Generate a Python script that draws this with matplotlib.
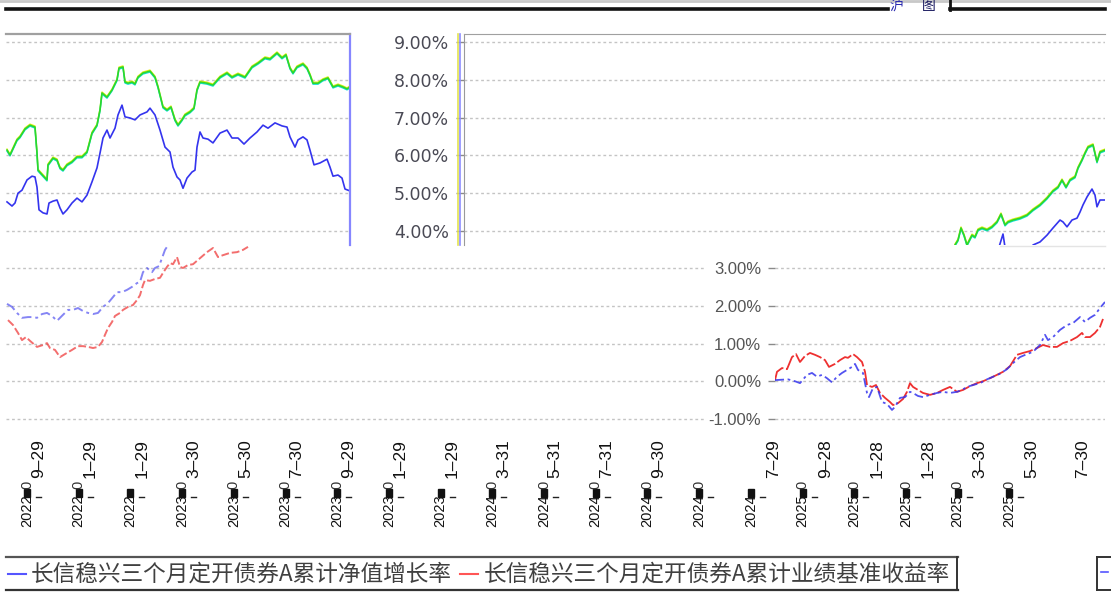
import matplotlib
matplotlib.use("Agg")
import matplotlib.pyplot as plt
import matplotlib.transforms as mtransforms
from matplotlib.patches import Rectangle
from matplotlib.lines import Line2D
import numpy as np

plt.rcParams["font.family"] = ["Liberation Sans", "DejaVu Sans"]

# ── data (x = day number on the shared date axis, y = cumulative return %) ──
a_green_day = [7, 10, 17, 20, 25, 30, 35, 37, 38, 47, 48, 53, 57, 60, 63, 67, 72, 77, 82, 87,
               92, 97, 100, 102, 107, 112, 117, 119, 123, 125, 128, 132, 135, 138, 143, 150, 155, 158, 163, 167,
               171, 175, 178, 182, 185, 190, 194, 197, 200, 207, 213, 220, 227, 232, 238, 245, 252, 258, 265, 270,
               277, 282, 286, 290, 293, 297, 303, 307, 310, 313, 318, 323, 328, 333, 338, 343, 347, 350]
a_green_val = [6.14, 6.01, 6.41, 6.49, 6.70, 6.80, 6.75, 6.06, 5.61, 5.35, 5.75, 5.93, 5.88, 5.67, 5.61, 5.75, 5.83, 5.96, 5.96, 6.09,
               6.59, 6.80, 7.20, 7.65, 7.54, 7.73, 8.00, 8.31, 8.34, 7.94, 7.91, 7.94, 7.89, 8.07, 8.18, 8.23, 8.07, 7.81, 7.28, 7.20,
               7.28, 6.94, 6.80, 6.94, 7.07, 7.15, 7.25, 7.73, 7.94, 7.91, 7.86, 8.07, 8.18, 8.07, 8.15, 8.07, 8.34, 8.44, 8.58, 8.55,
               8.71, 8.58, 8.66, 8.31, 8.18, 8.34, 8.42, 8.31, 8.13, 7.91, 7.91, 8.00, 8.05, 7.81, 7.86, 7.81, 7.76, 7.81]

a_blue_day = [7, 12, 15, 18, 22, 27, 32, 35, 37, 39, 43, 47, 49, 53, 57, 60, 63, 67, 72, 77,
              82, 87, 92, 97, 100, 103, 107, 110, 115, 118, 122, 125, 130, 135, 140, 147, 150, 155, 160, 165,
              170, 173, 177, 180, 183, 187, 192, 195, 197, 200, 203, 208, 213, 220, 227, 232, 238, 244, 250, 257,
              263, 268, 275, 282, 287, 290, 295, 298, 303, 307, 310, 314, 320, 327, 330, 333, 338, 342, 345, 350]
a_blue_val = [4.77, 4.66, 4.74, 5.00, 5.08, 5.35, 5.45, 5.43, 5.16, 4.56, 4.48, 4.45, 4.74, 4.79, 4.82, 4.61, 4.45, 4.56, 4.74, 4.87,
              4.77, 4.95, 5.30, 5.67, 6.06, 6.46, 6.67, 6.46, 6.72, 7.07, 7.33, 7.02, 6.99, 6.94, 7.07, 7.15, 7.25, 7.07, 6.67, 6.22,
              6.09, 5.69, 5.43, 5.35, 5.13, 5.40, 5.56, 5.61, 6.22, 6.62, 6.46, 6.43, 6.33, 6.59, 6.67, 6.46, 6.46, 6.30, 6.46, 6.62,
              6.80, 6.72, 6.86, 6.78, 6.75, 6.49, 6.22, 6.41, 6.49, 6.41, 6.14, 5.75, 5.80, 5.90, 5.69, 5.45, 5.48, 5.40, 5.11, 5.06]

b_green_day = [953, 955, 958, 961, 964, 967, 972, 975, 978, 982, 987, 992, 997, 1001, 1005, 1008, 1013, 1020,
               1027, 1033, 1040, 1047, 1053, 1058, 1062, 1066, 1070, 1075, 1078, 1082, 1085, 1088, 1093, 1097, 1100, 1105]
b_green_val = [3.40, 3.63, 3.76, 4.08, 3.89, 3.63, 3.89, 3.84, 4.03, 4.08, 4.03, 4.11, 4.24, 4.45, 4.16, 4.24, 4.29, 4.34,
               4.42, 4.56, 4.69, 4.87, 5.06, 5.16, 5.35, 5.16, 5.35, 5.43, 5.67, 5.88, 6.06, 6.22, 6.28, 5.83, 6.09, 6.14]

b_blue_day = [997, 1003, 1006, np.nan, 1030, 1033, 1040, 1047, 1053, 1060, 1063, 1067, 1072, 1077, 1080,
              1083, 1087, 1092, 1095, 1097, 1100, 1105]
b_blue_val = [3.40, 3.92, 3.40, np.nan, 3.40, 3.63, 3.71, 3.89, 4.08, 4.29, 4.24, 4.11, 4.29, 4.34, 4.50,
              4.69, 4.90, 5.11, 4.95, 4.64, 4.82, 4.82]

c_blue_day = [7, 12, 17, 22, 28, 33, 37, 42, 47, 52, 57, 63, 68, 73, 78, 83, 88, 93, 98, 103,
              108, 113, 117, 122, 127, 132, 137, 140, 143, 147, 152, 155, 159, 162, 165, 167, 169]
c_blue_val = [2.05, 1.97, 1.81, 1.68, 1.70, 1.70, 1.68, 1.78, 1.81, 1.73, 1.60, 1.76, 1.89, 1.89, 1.94, 1.86, 1.81, 1.78, 1.81, 1.97,
              2.07, 2.23, 2.36, 2.36, 2.42, 2.50, 2.60, 2.63, 2.89, 3.00, 2.89, 3.00, 3.05, 3.26, 3.48, 3.56, 3.75]

c_red_day = [8, 13, 18, 22, 26, 30, 37, 43, 47, 50, 55, 60, 65, 72, 78, 83, 88, 93, 98, 102,
             105, 108, 112, 115, 120, 123, 128, 133, 137, 140, 143, 145, 150, 155, 160, 163, 167, 170, 173, 177,
             180, 183, 188, 193, 200, 207, 213, 218, 223, 230, 237, 243, 248]
c_red_val = [1.62, 1.49, 1.28, 1.09, 1.17, 1.07, 0.91, 0.96, 1.01, 0.88, 0.83, 0.64, 0.72, 0.83, 0.93, 0.93, 0.91, 0.88, 0.91, 1.04,
             1.23, 1.41, 1.57, 1.73, 1.81, 1.89, 1.97, 2.02, 2.15, 2.28, 2.55, 2.68, 2.66, 2.71, 2.74, 2.87, 3.03, 3.13, 3.10, 3.29,
             3.03, 3.00, 3.08, 3.10, 3.26, 3.42, 3.53, 3.29, 3.34, 3.40, 3.42, 3.48, 3.56]

d_red_day = [775, 777, 782, 787, 792, 796, 800, 805, 810, 815, 820, 825, 829, 835, 840, 845, 848, 853, 857, 862,
             865, 867, 872, 876, 880, 885, 890, 893, 898, 903, 907, 910, 913, 918, 923, 930, 937, 943, 950, 957,
             963, 970, 977, 983, 990, 997, 1003, 1010, 1017, 1023, 1030, 1037, 1043, 1050, 1057, 1063, 1070, 1077, 1082, 1085,
             1090, 1095, 1100, 1103]
d_red_val = [0.03, 0.25, 0.35, 0.32, 0.64, 0.72, 0.51, 0.67, 0.75, 0.70, 0.64, 0.56, 0.38, 0.46, 0.56, 0.64, 0.62, 0.72, 0.64, 0.51,
             0.25, -0.10, -0.15, -0.10, -0.31, -0.44, -0.55, -0.63, -0.58, -0.47, -0.28, -0.05, -0.15, -0.23, -0.31, -0.36, -0.31, -0.23, -0.15, -0.28,
             -0.23, -0.13, -0.05, 0.00, 0.08, 0.17, 0.25, 0.40, 0.70, 0.75, 0.80, 0.88, 0.96, 0.91, 0.91, 1.01, 1.07, 1.17, 1.28, 1.17,
             1.17, 1.28, 1.44, 1.65]

d_blue_day = [775, 788, 795, 800, 807, 812, 817, 822, 827, 832, 837, 842, 847, 852, 855, 858, 863, 867, 869, 873,
              877, 882, 887, 892, 895, 900, 905, 910, 913, 918, 923, 930, 937, 943, 950, 957, 962, 967, 973, 980,
              987, 993, 1000, 1007, 1013, 1020, 1027, 1033, 1040, 1045, 1048, 1053, 1060, 1067, 1073, 1080, 1085, 1090, 1095, 1100,
              1105]
d_blue_val = [0.03, 0.05, 0.00, -0.05, 0.17, 0.22, 0.12, 0.17, 0.08, -0.03, 0.12, 0.22, 0.30, 0.38, 0.46, 0.30, 0.22, -0.31, -0.42, -0.18,
              -0.15, -0.55, -0.60, -0.76, -0.68, -0.44, -0.42, -0.28, -0.31, -0.39, -0.42, -0.36, -0.31, -0.28, -0.31, -0.28, -0.23, -0.15, -0.10, -0.05,
              0.05, 0.12, 0.20, 0.32, 0.48, 0.64, 0.72, 0.78, 0.96, 1.23, 1.09, 1.17, 1.36, 1.49, 1.54, 1.70, 1.57, 1.68, 1.76, 1.94,
              2.10]

top_yticks = [9, 8, 7, 6, 5, 4]
bottom_yticks = [3, 2, 1, 0, -1]

date_low = ["2022", "2022", "2022", "2023", "2023", "2023", "2023", "2023", "2023", "2024",
            "2024", "2024", "2024", "2024", "2024", "2025", "2025", "2025", "2025", "2025"]
date_mid = ["0", "0", "", "0", "0", "0", "0", "0", "", "0",
            "0", "0", "0", "0", "", "0", "0", "0", "0", "0"]
date_top_left = ["9\u201329", "1\u201329", "1\u201329", "3\u201330", "5\u201330", "7\u201330", "9\u201329",
                 "1\u201329", "1\u201329", "3\u201331", "5\u201331", "7\u201331", "9\u201330"]
date_top_right = ["7\u201329", "9\u201328", "1\u201328", "1\u201328", "3\u201330", "5\u201330", "7\u201330"]

legend_labels = ["长信稳兴三个月定开债券A累计净值增长率", "长信稳兴三个月定开债券A累计业绩基准收益率"]

# ── colours ──────────────────────────────────────────────────────────────────
C_BLUE = "#3434ee"
C_RED = "#ee3030"
C_GREEN = "#2cd82c"
C_GRID = "#c4c4c4"
C_TICKTXT = "#4a4a55"
CJK = ["Noto Sans CJK SC", "DejaVu Sans"]

W, H = 1111, 593
fig = plt.figure(figsize=(W / 100, H / 100), dpi=100)
fig.patch.set_facecolor("white")


def box(x0, y0, x1, y1):
    return [x0 / W, 1 - y1 / H, (x1 - x0) / W, (y1 - y0) / H]


def fx(x):
    return x / W


def fy(y):
    return 1 - y / H


def hline(x0, x1, y, **kw):
    fig.add_artist(Line2D([fx(x0), fx(x1)], [fy(y), fy(y)], transform=fig.transFigure, **kw))


def vline(x, y0, y1, **kw):
    fig.add_artist(Line2D([fx(x), fx(x)], [fy(y0), fy(y1)], transform=fig.transFigure, **kw))


def ylim_for(y0, y1, v_top, p_top, v_bot, p_bot):
    s = (p_bot - p_top) / (v_top - v_bot)
    return v_top - (y1 - p_top) / s, v_top + (p_top - y0) / s


def panel(x0, y0, x1, y1, ylim, yticks):
    ax = fig.add_axes(box(x0, y0, x1, y1))
    ax.set_xlim(x0, x1)
    ax.set_ylim(*ylim)
    ax.set_facecolor("none")
    for s in ax.spines.values():
        s.set_visible(False)
    ax.set_xticks([])
    ax.set_yticks(yticks)
    ax.tick_params(axis="y", length=0, labelleft=False)
    ax.grid(axis="y", color=C_GRID, linestyle=(0, (2, 2)), linewidth=1)
    ax.set_axisbelow(True)
    return ax


def green_line(ax, x, y):
    for dy, c in ((1.0, "#e6ee10"), (-1.0, "#10dede")):
        tr = mtransforms.offset_copy(ax.transData, fig=fig, x=0, y=dy, units="dots")
        ax.plot(x, y, color=c, lw=1.0, transform=tr)
    ax.plot(x, y, color=C_GREEN, lw=1.2)


fmt = lambda v: f"{v:.2f}%"

top_ylim = ylim_for(34, 245, 9, 42, 4, 231)
bot_ylim = ylim_for(245, 430, 3, 268, -1, 419)

# ── top-left fragment ───────────────────────────────────────────────────────
ax_a = panel(6, 34, 350, 245, top_ylim, top_yticks)
ax_a.spines["top"].set_visible(True)
ax_a.spines["top"].set_color("#a0a0a0")
ax_a.spines["top"].set_linewidth(1.6)
ax_a.spines["right"].set_visible(True)
ax_a.spines["right"].set_color("#8686ff")
ax_a.spines["right"].set_linewidth(1.6)
green_line(ax_a, a_green_day, a_green_val)
ax_a.plot(a_blue_day, a_blue_val, color=C_BLUE, lw=1.2)

# ── top-right fragment ──────────────────────────────────────────────────────
ax_b = panel(464, 34, 1105, 245, top_ylim, top_yticks)
ax_b.set_yticklabels([fmt(v) for v in top_yticks], family="DejaVu Sans")
ax_b.tick_params(axis="y", length=6, width=1, color="#8a8a8a", labelleft=True,
                 labelsize=12.5, labelcolor=C_TICKTXT, pad=5)
ax_b.spines["top"].set_visible(True)
ax_b.spines["top"].set_color("#a0a0a0")
ax_b.spines["left"].set_visible(True)
ax_b.spines["left"].set_color("#9a9a9a")
green_line(ax_b, b_green_day, b_green_val)
ax_b.plot(b_blue_day, b_blue_val, color=C_BLUE, lw=1.2)
vline(458, 34, 245, color="#e4e450", lw=1.2)
vline(460, 34, 245, color="#8e8eff", lw=1.2)

# ── bottom-left fragment ────────────────────────────────────────────────────
ax_c = panel(6, 245, 705, 430, bot_ylim, bottom_yticks)
ax_c.plot(c_blue_day, c_blue_val, color=C_BLUE, lw=1.4, alpha=0.6,
          linestyle=(0, (5, 2, 1.5, 2)))
ax_c.plot(c_red_day, c_red_val, color=C_RED, lw=1.4, alpha=0.7,
          linestyle=(0, (4, 1.5)))

# ── bottom-right fragment ───────────────────────────────────────────────────
ax_d = panel(775, 245, 1105, 430, bot_ylim, bottom_yticks)
ax_d.set_yticklabels([fmt(v) for v in bottom_yticks])
ax_d.tick_params(axis="y", length=5, width=1, color="#8a8a8a", labelleft=True,
                 labelsize=12, labelcolor="#555555", pad=5)
ax_d.plot(d_red_day, d_red_val, color=C_RED, lw=1.3, linestyle=(0, (9, 1.5)))
ax_d.plot(d_blue_day, d_blue_val, color=C_BLUE, lw=1.3, alpha=0.85,
          linestyle=(0, (5, 2, 1.5, 2)))
hline(1000, 1105, 246, color="#e4e4e4", lw=1)

# ── date labels (broken tick text) ──────────────────────────────────────────
for i, (lo, mid) in enumerate(zip(date_low, date_mid)):
    x = 27 + 51.7 * i
    fig.text(fx(x), fy(527), lo, rotation=90, ha="center", va="bottom",
             fontsize=10.5, color="#111111")
    fig.add_artist(Rectangle((fx(x - 3), fy(497)), 6 / W, 8 / H,
                             transform=fig.transFigure, color="#111111"))
    if mid:
        fig.text(fx(x), fy(489), mid, rotation=90, ha="center", va="bottom",
                 fontsize=10.5, color="#333333")
    hline(x + 9, x + 14, 497, color="#222222", lw=1)
for i, lab in enumerate(date_top_left):
    x = 39 + 51.6 * i
    fig.text(fx(x), fy(478), lab, rotation=90, ha="center", va="bottom",
             fontsize=12.5, color="#111111")
for i, lab in enumerate(date_top_right):
    x = 774 + 51.5 * i
    fig.text(fx(x), fy(478), lab, rotation=90, ha="center", va="bottom",
             fontsize=12.5, color="#111111")

# ── legend strip ────────────────────────────────────────────────────────────
hline(6, 958, 557, color="#555555", lw=1.6)
hline(6, 958, 590, color="#333333", lw=1.6)
vline(957, 557, 590, color="#333333", lw=1.4)
hline(8, 26, 574, color="#5555ff", lw=1.5)
fig.text(fx(31), fy(574), legend_labels[0], ha="left", va="center", fontsize=16.3,
         color="#404040", family=CJK)
hline(460, 478, 574, color="#ff5555", lw=1.5)
fig.text(fx(484), fy(574), legend_labels[1], ha="left", va="center", fontsize=16.3,
         color="#404040", family=CJK)
vline(1097, 557, 590, color="#333333", lw=1.4)
hline(1097, 1111, 557, color="#333333", lw=1.4)
hline(1097, 1111, 590, color="#333333", lw=1.4)
hline(1101, 1108, 572, color="#5555ff", lw=1.2)

# ── top window chrome ───────────────────────────────────────────────────────
hline(0, 1111, 1, color="#c8c8c8", lw=2)
hline(6, 888, 9, color="#111111", lw=2.6)
hline(950, 1105, 9, color="#111111", lw=2.6)
vline(950, 0, 10, color="#111111", lw=2)
fig.text(fx(889), fy(6), "\u6caa", ha="left", va="center", fontsize=10,
         color="#2a2ab0", family=CJK)
fig.text(fx(922), fy(6), "\u56fe", ha="left", va="center", fontsize=10,
         color="#1a1a60", family=CJK)

fig.savefig("out.png", dpi=100, facecolor="white")
